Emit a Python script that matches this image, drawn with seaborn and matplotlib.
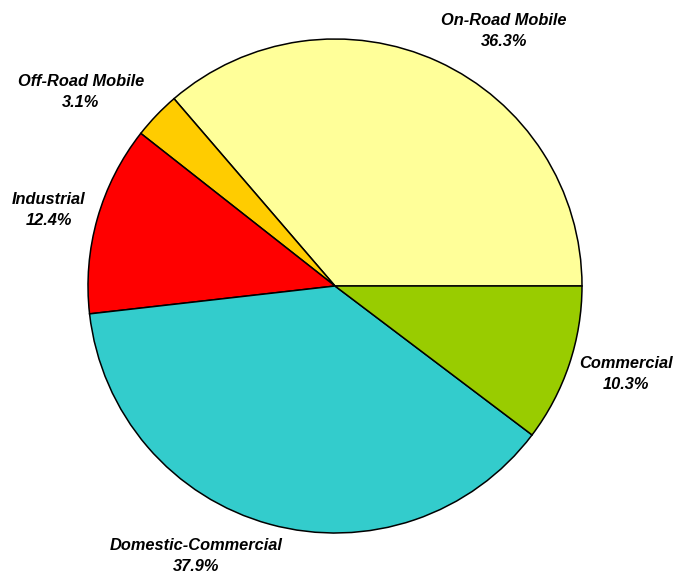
import matplotlib
matplotlib.use("Agg")
import matplotlib.pyplot as plt
import seaborn as sns

# Emission share by source category
categories = ["On-Road Mobile", "Off-Road Mobile", "Industrial",
              "Domestic-Commercial", "Commercial"]
shares = [36.3, 3.1, 12.4, 37.9, 10.3]
colors = ["#FFFF99", "#FFCC00", "#FF0000", "#33CCCC", "#99CC00"]

sns.set_theme(style="white")
plt.rcParams["font.family"] = ["Liberation Sans", "DejaVu Sans"]

W, H = 678, 575
fig = plt.figure(figsize=(W / 100, H / 100), dpi=100)
ax = fig.add_axes([0, 0, 1, 1])

cx, cy, r = 335, H - 286, 247
ax.pie(shares, colors=colors, startangle=0, counterclock=True,
       center=(cx, cy), radius=r, frame=True,
       wedgeprops=dict(edgecolor="black", linewidth=1.1))
ax.set_xlim(0, W)
ax.set_ylim(0, H)
ax.set_aspect("equal")
ax.axis("off")

# label anchor points (pixel coordinates, top-left origin)
label_pos = [(504, 31), (81, 92), (49, 210), (196, 556), (626, 374)]
for name, val, (x, y) in zip(categories, shares, label_pos):
    ax.text(x, H - y, f"{name}\n{val:.1f}%", ha="center", va="center",
            fontsize=11.8, fontweight="bold", fontstyle="italic",
            linespacing=1.55, color="black")

fig.savefig("out.png", dpi=100)
